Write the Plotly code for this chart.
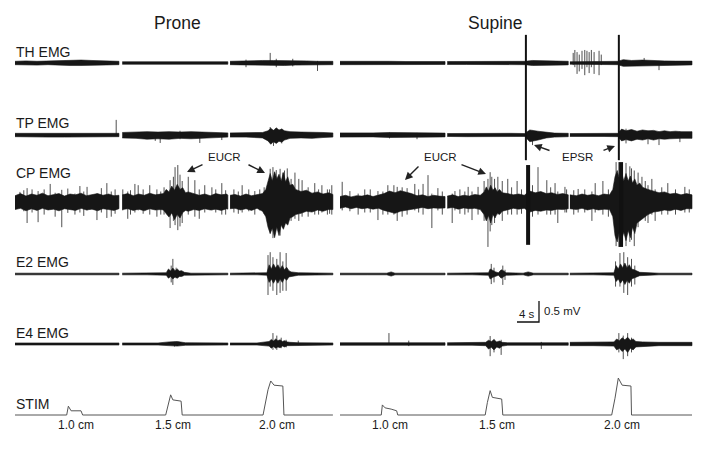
import plotly.graph_objects as go

# ======================= DATA (time in s, amplitude in mV) =======================
# Envelope breakpoints of each EMG trace: t, upper amplitude, lower amplitude.
# None marks a gap between recording segments.

# ---------------- Prone ----------------
th_prone_t  = [0, 2, 4, 6, 8, 10, 12, 14, 16, 18.9, None, 19.5, 22, 25, 28, 31, 34, 36, 38.7, None, 39.1, 41, 43, 45, 47, 49, 51, 53, 55, 57.8]
th_prone_hi = [0.04, 0.05, 0.04, 0.05, 0.05, 0.06, 0.07, 0.06, 0.05, 0.04, None, 0.03, 0.03, 0.035, 0.03, 0.03, 0.035, 0.03, 0.03, None, 0.04, 0.05, 0.05, 0.06, 0.06, 0.06, 0.05, 0.05, 0.04, 0.04]
th_prone_lo = [0.04, 0.045, 0.05, 0.04, 0.05, 0.06, 0.06, 0.07, 0.05, 0.04, None, 0.03, 0.035, 0.03, 0.03, 0.035, 0.03, 0.03, 0.03, None, 0.04, 0.045, 0.05, 0.055, 0.06, 0.06, 0.05, 0.045, 0.04, 0.04]
th_prone_spk_t  = [42.0, 46.4, 47.5, 50.5, 55.0]
th_prone_spk_hi = [0.08, 0.24, 0.10, 0.10, 0.05]
th_prone_spk_lo = [0.10, 0.05, 0.10, 0.08, 0.19]

tp_prone_t  = [0, 3, 6, 9, 12, 15, 18.9, None, 19.5, 22, 24, 26, 28, 30, 32, 34, 36, 38.7, None,
               39.1, 42, 45, 46, 46.5, 47, 47.5, 48, 48.5, 49, 50, 52, 54, 56, 57.8]
tp_prone_hi = [0.04, 0.04, 0.05, 0.04, 0.05, 0.04, 0.04, None, 0.06, 0.07, 0.08, 0.07, 0.08, 0.07, 0.08, 0.07, 0.06, 0.05, None,
               0.05, 0.05, 0.06, 0.10, 0.16, 0.11, 0.17, 0.12, 0.14, 0.10, 0.08, 0.07, 0.07, 0.06, 0.05]
tp_prone_lo = [0.04, 0.04, 0.05, 0.05, 0.04, 0.05, 0.04, None, 0.07, 0.08, 0.10, 0.09, 0.10, 0.08, 0.09, 0.08, 0.07, 0.05, None,
               0.05, 0.05, 0.07, 0.14, 0.22, 0.16, 0.20, 0.15, 0.17, 0.12, 0.08, 0.07, 0.08, 0.06, 0.05]
tp_prone_spk_t  = [18.4, 25.5, 26.4, 30.0, 33.6, 37.6, 46.4, 47.0, 48.5]
tp_prone_spk_hi = [0.36, 0.05, 0.06, 0.10, 0.05, 0.05, 0.19, 0.12, 0.15]
tp_prone_spk_lo = [0.02, 0.14, 0.19, 0.10, 0.19, 0.12, 0.12, 0.26, 0.20]

cp_prone_t  = [0, 1, 2, 3, 4, 5, 6, 7, 8, 9, 10, 11, 12, 13, 14, 15, 16, 17, 18, 18.9, None,
               19.5, 20.5, 21.5, 22.5, 23.5, 24.5, 25.5, 26.5, 27, 27.5, 28, 28.5, 29, 29.5, 30, 30.5, 31, 31.5,
               32.5, 33.5, 34.5, 35.5, 36.5, 37.5, 38.5, 38.7, None,
               39.1, 40, 41, 42, 43, 44, 45, 45.6, 46, 46.4, 46.8, 47.2, 47.6, 48, 48.4, 48.8, 49.2, 49.6, 50,
               50.5, 51, 52, 53, 54, 55, 56, 57, 57.8]
cp_prone_hi = [0.15, 0.20, 0.14, 0.19, 0.16, 0.21, 0.15, 0.18, 0.20, 0.14, 0.19, 0.17, 0.21, 0.15, 0.18, 0.20, 0.16, 0.19, 0.15, 0.16, None,
               0.17, 0.20, 0.15, 0.19, 0.16, 0.21, 0.17, 0.19, 0.20, 0.30, 0.24, 0.38, 0.28, 0.42, 0.30, 0.34, 0.22, 0.24,
               0.20, 0.16, 0.19, 0.15, 0.20, 0.17, 0.19, 0.16, None,
               0.16, 0.18, 0.14, 0.19, 0.15, 0.18, 0.20, 0.30, 0.50, 0.68, 0.50, 0.72, 0.55, 0.66, 0.50, 0.70, 0.48, 0.60, 0.40,
               0.42, 0.30, 0.25, 0.28, 0.21, 0.24, 0.19, 0.22, 0.18]
cp_prone_lo = [0.18, 0.15, 0.21, 0.16, 0.20, 0.15, 0.19, 0.17, 0.21, 0.16, 0.18, 0.20, 0.15, 0.19, 0.17, 0.21, 0.16, 0.18, 0.20, 0.16, None,
               0.18, 0.16, 0.20, 0.17, 0.21, 0.16, 0.19, 0.18, 0.19, 0.28, 0.36, 0.26, 0.42, 0.30, 0.38, 0.25, 0.20, 0.22,
               0.18, 0.20, 0.16, 0.19, 0.17, 0.20, 0.16, 0.17, None,
               0.16, 0.15, 0.19, 0.16, 0.20, 0.15, 0.22, 0.35, 0.60, 0.75, 0.62, 0.85, 0.60, 0.80, 0.55, 0.65, 0.50, 0.55, 0.38,
               0.35, 0.30, 0.27, 0.22, 0.24, 0.19, 0.22, 0.18, 0.18]
cp_prone_spk_t  = [0.9, 1.6, 2.2, 3.1, 4.2, 5.3, 6.4, 7.3, 8.5, 9.6, 10.9, 11.8, 12.5, 13.1, 14.9, 15.7, 16.7, 17.5, 18.2,
                   19.6, 20.5, 21.0, 21.8, 22.4, 23.3, 24.5, 25.8, 26.5, 27.1, 28.2, 28.8, 29.1, 29.6, 30.0, 30.4, 31.5,
                   32.7, 33.5, 34.5, 35.8, 36.5, 37.6, 38.3, 39.8, 40.6, 41.3, 42.5, 43.6, 44.5, 45.3, 46.4, 46.9, 47.2,
                   47.5, 48.0, 48.2, 48.7, 49.0, 49.5, 50.2, 50.9, 51.6, 52.2, 53.3, 54.5, 55.2, 55.8, 56.8, 57.2, 57.6]
cp_prone_spk_hi = [0.24, 0.28, 0.33, 0.30, 0.26, 0.30, 0.43, 0.22, 0.29, 0.32, 0.20, 0.38, 0.25, 0.36, 0.20, 0.33, 0.45, 0.25, 0.30,
                   0.30, 0.25, 0.28, 0.43, 0.40, 0.30, 0.40, 0.30, 0.25, 0.35, 0.52, 0.60, 0.83, 0.88, 0.65, 0.50, 0.60,
                   0.52, 0.30, 0.40, 0.35, 0.30, 0.45, 0.28, 0.30, 0.25, 0.40, 0.30, 0.26, 0.30, 0.35, 0.79, 0.83, 0.70,
                   0.76, 0.60, 0.79, 0.70, 0.75, 0.80, 0.55, 0.70, 0.55, 0.52, 0.35, 0.45, 0.30, 0.40, 0.30, 0.30, 0.40]
cp_prone_spk_lo = [0.10, 0.22, 0.50, 0.25, 0.48, 0.30, 0.15, 0.35, 0.60, 0.26, 0.30, 0.25, 0.33, 0.20, 0.43, 0.25, 0.38, 0.35, 0.28,
                   0.20, 0.40, 0.30, 0.25, 0.20, 0.28, 0.30, 0.35, 0.30, 0.30, 0.62, 0.45, 0.55, 0.67, 0.58, 0.50, 0.30,
                   0.35, 0.40, 0.25, 0.20, 0.25, 0.30, 0.30, 0.25, 0.28, 0.25, 0.22, 0.30, 0.20, 0.28, 0.75, 0.86, 0.75,
                   0.60, 0.70, 0.80, 0.60, 0.55, 0.50, 0.45, 0.40, 0.45, 0.35, 0.35, 0.30, 0.30, 0.25, 0.30, 0.28, 0.30]

e2_prone_t  = [0, 6, 12, 18.9, None,
               19.5, 24, 27.5, 27.9, 28.3, 28.7, 29.1, 29.5, 29.9, 30.3, 30.8, 32, 38.7, None,
               39.1, 44, 45.8, 46.2, 46.6, 47.0, 47.4, 47.8, 48.2, 48.6, 49.0, 49.4, 49.8, 50.2, 51.5, 57.8]
e2_prone_hi = [0.02, 0.025, 0.02, 0.02, None,
               0.02, 0.02, 0.03, 0.12, 0.07, 0.14, 0.08, 0.12, 0.07, 0.08, 0.04, 0.02, 0.02, None,
               0.02, 0.02, 0.03, 0.22, 0.12, 0.24, 0.14, 0.22, 0.12, 0.20, 0.10, 0.16, 0.08, 0.05, 0.03, 0.02]
e2_prone_lo = [0.02, 0.025, 0.02, 0.02, None,
               0.02, 0.02, 0.03, 0.10, 0.06, 0.12, 0.07, 0.10, 0.06, 0.06, 0.03, 0.02, 0.02, None,
               0.02, 0.02, 0.03, 0.20, 0.12, 0.22, 0.12, 0.22, 0.12, 0.20, 0.10, 0.15, 0.07, 0.05, 0.03, 0.02]
e2_prone_spk_t  = [28.4, 28.7, 29.3, 46.0, 46.4, 46.9, 47.6, 48.2, 48.7, 49.3]
e2_prone_spk_hi = [0.20, 0.36, 0.15, 0.45, 0.52, 0.40, 0.36, 0.52, 0.30, 0.50]
e2_prone_spk_lo = [0.20, 0.26, 0.10, 0.50, 0.30, 0.40, 0.50, 0.45, 0.40, 0.40]

e4_prone_t  = [0, 6, 12, 18.9, None, 19.5, 26, 28, 29.5, 31, 38.7, None,
               39.1, 44, 46.2, 46.6, 47.0, 47.4, 47.8, 48.2, 48.6, 49.0, 49.5, 50, 51.5, 57.8]
e4_prone_hi = [0.025, 0.025, 0.025, 0.025, None, 0.025, 0.025, 0.05, 0.06, 0.03, 0.025, None,
               0.025, 0.025, 0.06, 0.11, 0.07, 0.12, 0.08, 0.10, 0.06, 0.08, 0.05, 0.04, 0.03, 0.025]
e4_prone_lo = [0.025, 0.025, 0.025, 0.025, None, 0.025, 0.025, 0.04, 0.05, 0.03, 0.025, None,
               0.025, 0.025, 0.05, 0.10, 0.06, 0.10, 0.07, 0.09, 0.05, 0.07, 0.04, 0.04, 0.03, 0.025]
e4_prone_spk_t  = [29.0, 46.9, 47.6, 48.4, 49.3, 51.5]
e4_prone_spk_hi = [0.05, 0.26, 0.20, 0.15, 0.10, 0.08]
e4_prone_spk_lo = [0.06, 0.14, 0.14, 0.10, 0.08, 0.03]

stim_prone_t = [0, 9.4, 9.7, 10.2, 12.0, 12.3, 27.4, 27.9, 28.3, 28.7, 30.2, 30.4, 45.1, 46.0, 46.5, 47.1, 48.7, 48.9, 57.8]
stim_prone_v = [0, 0, 0.21, 0.10, 0.10, 0, 0, 0.30, 0.48, 0.36, 0.33, 0, 0, 0.60, 0.81, 0.71, 0.69, 0, 0]

# ---------------- Supine (time from start of supine record) ----------------
th_sup_t  = [0, 3, 6, 9, 12, 15, 19.1, None, 19.5, 23, 27, 31, 33.6, 35, 38, 41.5, None, 41.8, 44, 47, 49, 50.5, 51.5, 53, 55, 57, 59, 61, 64]
th_sup_hi = [0.04, 0.045, 0.04, 0.04, 0.035, 0.04, 0.035, None, 0.035, 0.04, 0.035, 0.04, 0.04, 0.06, 0.05, 0.04, None, 0.03, 0.03, 0.035, 0.04, 0.04, 0.08, 0.06, 0.07, 0.055, 0.05, 0.045, 0.045]
th_sup_lo = [0.04, 0.04, 0.045, 0.04, 0.04, 0.035, 0.035, None, 0.035, 0.035, 0.04, 0.035, 0.04, 0.06, 0.05, 0.045, None, 0.03, 0.03, 0.035, 0.04, 0.04, 0.08, 0.07, 0.06, 0.06, 0.05, 0.05, 0.045]
th_sup_spk_t  = [42.4, 42.7, 43.1, 43.5, 44.0, 44.5, 44.9, 45.3, 45.7, 46.2, 47.1, 47.5, 55.3, 58.0]
th_sup_spk_hi = [0.24, 0.31, 0.26, 0.20, 0.29, 0.31, 0.29, 0.26, 0.31, 0.26, 0.29, 0.20, 0.12, 0.05]
th_sup_spk_lo = [0.05, 0.10, 0.26, 0.20, 0.14, 0.29, 0.10, 0.24, 0.10, 0.26, 0.29, 0.05, 0.05, 0.17]

tp_sup_t  = [0, 3, 6, 9, 12, 15, 19.1, None, 19.5, 23, 27, 31, 33.6, 34.5, 36, 37.5, 39, 41.5, None,
             41.8, 45, 48, 50.5, 51.2, 52, 53, 54, 55, 56, 57, 58, 59, 60, 61, 62, 64]
tp_sup_hi = [0.05, 0.045, 0.05, 0.06, 0.055, 0.05, 0.045, None, 0.035, 0.04, 0.035, 0.04, 0.035, 0.12, 0.09, 0.06, 0.045, 0.04, None,
             0.035, 0.035, 0.035, 0.04, 0.14, 0.10, 0.13, 0.09, 0.12, 0.10, 0.11, 0.08, 0.10, 0.08, 0.09, 0.08, 0.08]
tp_sup_lo = [0.05, 0.05, 0.045, 0.06, 0.06, 0.05, 0.045, None, 0.035, 0.04, 0.035, 0.04, 0.035, 0.16, 0.12, 0.07, 0.05, 0.04, None,
             0.035, 0.035, 0.035, 0.04, 0.14, 0.11, 0.14, 0.10, 0.12, 0.09, 0.12, 0.09, 0.10, 0.09, 0.08, 0.08, 0.08]
tp_sup_spk_t  = [9.0, 14.0, 35.0, 52.0, 56.0, 58.0, 61.8]
tp_sup_spk_hi = [0.06, 0.05, 0.10, 0.15, 0.10, 0.08, 0.08]
tp_sup_spk_lo = [0.08, 0.10, 0.24, 0.20, 0.22, 0.24, 0.17]

cp_sup_t  = [0, 1, 2, 3, 4, 5, 6, 7, 8, 9, 10, 11, 12, 13, 14, 15, 16, 17, 18, 19.1, None,
             19.5, 20.5, 21.5, 22.5, 23.5, 24.5, 25.5, 26.2, 26.6, 27, 27.4, 27.8, 28.2, 28.6, 29, 29.5, 30.5,
             31.5, 32.5, 33.5, 34.5, 35.5, 36.5, 37.5, 38.5, 39.5, 40.5, 41.5, None,
             41.8, 43, 44, 45, 46, 47, 48, 49, 49.6, 50, 50.4, 50.8, 51.2, 51.6, 52, 52.4, 52.8, 53.2, 53.6, 54,
             54.5, 55, 56, 57, 58, 59, 60, 61, 62, 63, 64]
cp_sup_hi = [0.13, 0.16, 0.12, 0.15, 0.14, 0.17, 0.13, 0.16, 0.20, 0.26, 0.22, 0.27, 0.24, 0.20, 0.15, 0.17, 0.13, 0.16, 0.14, 0.13, None,
             0.14, 0.17, 0.13, 0.16, 0.14, 0.18, 0.16, 0.24, 0.36, 0.26, 0.40, 0.28, 0.34, 0.24, 0.30, 0.22, 0.20,
             0.17, 0.19, 0.16, 0.26, 0.22, 0.25, 0.20, 0.22, 0.18, 0.20, 0.17, None,
             0.17, 0.15, 0.19, 0.16, 0.18, 0.15, 0.19, 0.17, 0.30, 0.60, 0.75, 0.55, 0.70, 0.50, 0.68, 0.50, 0.62, 0.45, 0.55, 0.40,
             0.45, 0.35, 0.30, 0.26, 0.22, 0.24, 0.19, 0.21, 0.17, 0.20, 0.17]
cp_sup_lo = [0.15, 0.12, 0.16, 0.13, 0.16, 0.14, 0.17, 0.15, 0.20, 0.24, 0.27, 0.22, 0.20, 0.17, 0.15, 0.13, 0.16, 0.14, 0.15, 0.14, None,
             0.15, 0.13, 0.17, 0.14, 0.16, 0.15, 0.18, 0.30, 0.45, 0.32, 0.50, 0.30, 0.38, 0.26, 0.30, 0.22, 0.18,
             0.15, 0.17, 0.15, 0.24, 0.20, 0.22, 0.19, 0.20, 0.17, 0.18, 0.16, None,
             0.16, 0.18, 0.15, 0.19, 0.16, 0.19, 0.17, 0.18, 0.35, 0.80, 0.95, 0.70, 0.90, 0.72, 0.92, 0.68, 0.85, 0.60, 0.75, 0.50,
             0.45, 0.40, 0.30, 0.24, 0.22, 0.19, 0.21, 0.17, 0.20, 0.16, 0.16]
cp_sup_spk_t  = [0.4, 1.8, 3.3, 4.5, 5.5, 6.9, 7.8, 8.7, 9.8, 10.4, 11.3, 12.2, 13.6, 14.3, 15.1, 16.0, 16.7, 17.8, 18.6,
                 20.4, 20.9, 21.8, 22.7, 23.3, 24.0, 25.1, 26.2, 26.9, 27.3, 27.6, 28.1, 28.7, 29.5, 30.5, 31.2, 32.2, 33.0,
                 35.0, 36.0, 37.6, 38.3, 39.1, 39.6, 40.9, 41.2, 42.5, 43.3, 44.5, 45.8, 46.4, 47.8, 48.8,
                 50.2, 50.7, 51.0, 51.3, 52.0, 52.7, 53.0, 53.5, 54.2, 54.9, 55.5, 56.0, 56.7, 57.3, 58.5, 59.6, 61.0, 62.7, 63.5]
cp_sup_spk_hi = [0.48, 0.26, 0.20, 0.30, 0.30, 0.26, 0.25, 0.40, 0.40, 0.36, 0.35, 0.33, 0.43, 0.30, 0.43, 0.64, 0.20, 0.33, 0.25,
                 0.20, 0.26, 0.30, 0.25, 0.36, 0.25, 0.36, 0.50, 0.55, 0.71, 0.60, 0.55, 0.60, 0.50, 0.55, 0.35, 0.50, 0.30,
                 0.40, 0.83, 0.52, 0.35, 0.45, 0.25, 0.36, 0.30, 0.28, 0.31, 0.30, 0.25, 0.45, 0.50, 0.30,
                 0.95, 0.95, 0.90, 0.90, 0.93, 0.85, 0.80, 0.75, 0.70, 0.60, 0.50, 0.40, 0.55, 0.30, 0.35, 0.45, 0.30, 0.36, 0.30]
cp_sup_spk_lo = [0.20, 0.22, 0.30, 0.25, 0.25, 0.43, 0.30, 0.30, 0.30, 0.45, 0.35, 0.30, 0.20, 0.25, 0.30, 0.15, 0.62, 0.20, 0.30,
                 0.50, 0.20, 0.28, 0.30, 0.25, 0.43, 0.30, 0.45, 1.07, 0.70, 0.55, 0.50, 0.30, 0.45, 0.30, 0.30, 0.30, 0.28,
                 0.35, 0.30, 0.30, 0.30, 0.30, 0.50, 0.25, 0.25, 0.30, 0.25, 0.25, 0.45, 0.25, 0.30, 0.35,
                 1.05, 1.07, 0.95, 1.00, 1.05, 0.95, 0.90, 1.05, 0.60, 0.40, 0.45, 0.50, 0.30, 0.45, 0.30, 0.30, 0.30, 0.25, 0.25]

e2_sup_t  = [0, 5, 8.5, 9.3, 10, 14, 19.1, None,
             19.5, 24, 27, 27.3, 27.8, 28.3, 28.8, 29.3, 29.7, 30.2, 33.3, 34.2, 35.2, 41.5, None,
             41.8, 46, 49.8, 50.2, 50.6, 51.0, 51.4, 51.8, 52.2, 52.6, 53.0, 53.5, 54.5, 58, 64]
e2_sup_hi = [0.02, 0.02, 0.02, 0.05, 0.02, 0.02, 0.02, None,
             0.02, 0.02, 0.03, 0.12, 0.08, 0.05, 0.03, 0.10, 0.08, 0.03, 0.02, 0.05, 0.02, 0.02, None,
             0.02, 0.02, 0.03, 0.20, 0.12, 0.24, 0.15, 0.26, 0.14, 0.22, 0.12, 0.10, 0.04, 0.02, 0.02]
e2_sup_lo = [0.02, 0.02, 0.02, 0.05, 0.02, 0.02, 0.02, None,
             0.02, 0.02, 0.03, 0.12, 0.08, 0.05, 0.03, 0.10, 0.08, 0.03, 0.02, 0.05, 0.02, 0.02, None,
             0.02, 0.02, 0.03, 0.18, 0.12, 0.22, 0.14, 0.25, 0.15, 0.22, 0.12, 0.10, 0.04, 0.02, 0.02]
e2_sup_spk_t  = [27.5, 28.0, 29.6, 30.0, 50.1, 50.9, 51.6, 52.3, 53.0, 53.6]
e2_sup_spk_hi = [0.24, 0.15, 0.20, 0.10, 0.30, 0.50, 0.52, 0.40, 0.36, 0.20]
e2_sup_spk_lo = [0.24, 0.20, 0.26, 0.14, 0.30, 0.30, 0.45, 0.50, 0.30, 0.25]

e4_sup_t  = [0, 5, 10, 15, 19.1, None,
             19.5, 24, 26.5, 27.0, 27.5, 28.0, 28.5, 29.0, 29.5, 30.5, 36, 41.5, None,
             41.8, 46, 49.8, 50.3, 50.8, 51.3, 51.8, 52.3, 52.8, 53.3, 53.8, 55, 58, 64]
e4_sup_hi = [0.03, 0.03, 0.03, 0.03, 0.03, None,
             0.03, 0.03, 0.04, 0.09, 0.06, 0.10, 0.05, 0.07, 0.04, 0.03, 0.03, 0.03, None,
             0.04, 0.04, 0.05, 0.12, 0.08, 0.15, 0.10, 0.16, 0.09, 0.12, 0.06, 0.05, 0.04, 0.04]
e4_sup_lo = [0.03, 0.03, 0.03, 0.03, 0.03, None,
             0.03, 0.03, 0.04, 0.12, 0.08, 0.14, 0.07, 0.10, 0.05, 0.03, 0.03, 0.03, None,
             0.04, 0.04, 0.05, 0.14, 0.10, 0.18, 0.12, 0.20, 0.10, 0.14, 0.07, 0.05, 0.04, 0.04]
e4_sup_spk_t  = [8.9, 12.5, 27.3, 28.0, 29.3, 36.6, 50.7, 51.5, 52.3, 53.0]
e4_sup_spk_hi = [0.26, 0.08, 0.19, 0.12, 0.10, 0.05, 0.26, 0.20, 0.26, 0.15]
e4_sup_spk_lo = [0.02, 0.05, 0.29, 0.20, 0.26, 0.12, 0.20, 0.36, 0.29, 0.20]

stim_sup_t = [0, 7.5, 7.7, 8.2, 9.3, 10.3, 10.5, 26.4, 26.8, 27.3, 27.7, 29.4, 29.6, 49.4, 50.0, 50.4, 50.6, 51.3, 52.9, 53.0, 64]
stim_sup_v = [0, 0, 0.24, 0.17, 0.14, 0.10, 0, 0, 0.30, 0.58, 0.42, 0.38, 0, 0, 0.40, 0.70, 0.88, 0.71, 0.69, 0, 0]

# EPSR artefacts in the supine record (time, extent above TH / below TP, CP bar extent)
epsr_t     = [33.8, 50.7]
epsr_th_hi = [0.67, 0.67]
epsr_tp_lo = [0.60, 0.60]
epsr_cp_hi = [0.88, 0.95]
epsr_cp_lo = [1.02, 1.07]

# Labels
channel_names = ["TH EMG", "TP EMG", "CP EMG", "E2 EMG", "E4 EMG", "STIM"]
stim_labels = ["1.0 cm", "1.5 cm", "2.0 cm"]
stim_label_t_prone = [11.1, 28.7, 47.6]
stim_label_t_sup = [9.1, 28.5, 51.3]
scale_s, scale_mv = 4, 0.5

# ======================= LAYOUT CONSTANTS =======================
W, H = 704, 449
PX_PER_S, PX_PER_MV = 5.5, 42.0
X_LEFT_PX, SUP_START_PX = 15, 340
X_MIN = -X_LEFT_PX / PX_PER_S
X_MAX = (W - X_LEFT_PX) / PX_PER_S
SUP = (SUP_START_PX - X_LEFT_PX) / PX_PER_S
Y_MIN = -H / PX_PER_MV
base_px = [63, 135, 202, 274, 344, 415]
label_py = [52, 123, 173, 262, 333, 404]
OFF = [-b / PX_PER_MV for b in base_px]
CORE = "#161616"
SPK = "#3c3c3c"
FONT = "Arial, Liberation Sans, Helvetica, sans-serif"

fig = go.Figure()


def split(seq_t, seq_a, seq_b):
    segs, cur = [], ([], [], [])
    for t, a, b in zip(seq_t, seq_a, seq_b):
        if t is None:
            if cur[0]:
                segs.append(cur)
            cur = ([], [], [])
        else:
            cur[0].append(t); cur[1].append(a); cur[2].append(b)
    if cur[0]:
        segs.append(cur)
    return segs


def add_env(t, hi, lo, off, xoff):
    for ts, hs, ls in split(t, hi, lo):
        xs = [x + xoff for x in ts] + [x + xoff for x in reversed(ts)]
        ys = [off + h for h in hs] + [off - l for l in reversed(ls)]
        fig.add_trace(go.Scatter(x=xs, y=ys, mode="lines", fill="toself", fillcolor=CORE,
                                 line=dict(color=CORE, width=0.6), hoverinfo="skip", showlegend=False))


def add_spikes(t, hi, lo, off, xoff, color=SPK, width=0.9):
    xs, ys = [], []
    for tt, h, l in zip(t, hi, lo):
        xs += [tt + xoff, tt + xoff, None]
        ys += [off + h, off - l, None]
    fig.add_trace(go.Scatter(x=xs, y=ys, mode="lines", line=dict(color=color, width=width),
                             hoverinfo="skip", showlegend=False))


prone = [
    (th_prone_t, th_prone_hi, th_prone_lo, th_prone_spk_t, th_prone_spk_hi, th_prone_spk_lo),
    (tp_prone_t, tp_prone_hi, tp_prone_lo, tp_prone_spk_t, tp_prone_spk_hi, tp_prone_spk_lo),
    (cp_prone_t, cp_prone_hi, cp_prone_lo, cp_prone_spk_t, cp_prone_spk_hi, cp_prone_spk_lo),
    (e2_prone_t, e2_prone_hi, e2_prone_lo, e2_prone_spk_t, e2_prone_spk_hi, e2_prone_spk_lo),
    (e4_prone_t, e4_prone_hi, e4_prone_lo, e4_prone_spk_t, e4_prone_spk_hi, e4_prone_spk_lo),
]
supine = [
    (th_sup_t, th_sup_hi, th_sup_lo, th_sup_spk_t, th_sup_spk_hi, th_sup_spk_lo),
    (tp_sup_t, tp_sup_hi, tp_sup_lo, tp_sup_spk_t, tp_sup_spk_hi, tp_sup_spk_lo),
    (cp_sup_t, cp_sup_hi, cp_sup_lo, cp_sup_spk_t, cp_sup_spk_hi, cp_sup_spk_lo),
    (e2_sup_t, e2_sup_hi, e2_sup_lo, e2_sup_spk_t, e2_sup_spk_hi, e2_sup_spk_lo),
    (e4_sup_t, e4_sup_hi, e4_sup_lo, e4_sup_spk_t, e4_sup_spk_hi, e4_sup_spk_lo),
]

for xoff, chans in ((0.0, prone), (SUP, supine)):
    for i, (t, hi, lo, st, sh, sl) in enumerate(chans):
        add_spikes(st, sh, sl, OFF[i], xoff)
        add_env(t, hi, lo, OFF[i], xoff)

# EPSR artefacts
ex, ey = [], []
for t, a, b in zip(epsr_t, epsr_th_hi, epsr_tp_lo):
    ex += [t + SUP, t + SUP, None]
    ey += [OFF[0] + a, OFF[1] - b, None]
fig.add_trace(go.Scatter(x=ex, y=ey, mode="lines", line=dict(color="#111", width=2),
                         hoverinfo="skip", showlegend=False))
cx, cy = [], []
for t, a, b in zip(epsr_t, epsr_cp_hi, epsr_cp_lo):
    cx += [t + 0.4 + SUP, t + 0.4 + SUP, None]
    cy += [OFF[2] + a, OFF[2] - b, None]
fig.add_trace(go.Scatter(x=cx, y=cy, mode="lines", line=dict(color="#111", width=4),
                         hoverinfo="skip", showlegend=False))

# STIM traces
fig.add_trace(go.Scatter(x=stim_prone_t, y=[OFF[5] + v for v in stim_prone_v], mode="lines",
                         line=dict(color="#555", width=1), hoverinfo="skip", showlegend=False))
fig.add_trace(go.Scatter(x=[t + SUP for t in stim_sup_t], y=[OFF[5] + v for v in stim_sup_v], mode="lines",
                         line=dict(color="#555", width=1), hoverinfo="skip", showlegend=False))

# Scale bar
sb_x0 = (517 - X_LEFT_PX) / PX_PER_S
sb_y0 = -322 / PX_PER_MV
fig.add_trace(go.Scatter(x=[sb_x0, sb_x0 + scale_s, sb_x0 + scale_s],
                         y=[sb_y0, sb_y0, sb_y0 + scale_mv], mode="lines",
                         line=dict(color="#111", width=1.3), hoverinfo="skip", showlegend=False))

ann = []


def px(x):
    return x / W


def py(y):
    return 1 - y / H


def text(x, y, s, size, anchor="center", color="#1a1a1a"):
    ann.append(dict(x=px(x), y=py(y), xref="paper", yref="paper", text=s, showarrow=False,
                    xanchor=anchor, yanchor="middle", font=dict(family=FONT, size=size, color=color)))


def arrow(tx, ty, ax, ay):
    ann.append(dict(x=px(tx), y=py(ty), xref="paper", yref="paper", text="", showarrow=True,
                    ax=ax, ay=ay, arrowhead=2, arrowsize=1.1, arrowwidth=1.4, arrowcolor="#222"))


text(177, 23, "Prone", 17.5)
text(495, 23, "Supine", 17.5)
for name, yy in zip(channel_names, label_py):
    text(14, yy, name, 14, anchor="left")

text(224, 157, "EUCR", 11.5)
text(440, 157, "EUCR", 11.5)
text(577, 157, "EPSR", 11.5)
arrow(187, 172, 17, -8)
arrow(265, 173, -18, -9)
arrow(405, 180, 15, -15)
arrow(486, 174, -26, -10)
arrow(534, 145, 17, 6)
arrow(615, 146, -13, 5)

text(527, 314, "4 s", 11.5)
text(542, 311, "0.5 mV", 11.5, anchor="left")

for lab, t in zip(stim_labels, stim_label_t_prone):
    ann.append(dict(x=t, y=OFF[5] - 0.24, xref="x", yref="y", text=lab, showarrow=False,
                    font=dict(family=FONT, size=12, color="#1a1a1a")))
for lab, t in zip(stim_labels, stim_label_t_sup):
    ann.append(dict(x=t + SUP, y=OFF[5] - 0.24, xref="x", yref="y", text=lab, showarrow=False,
                    font=dict(family=FONT, size=12, color="#1a1a1a")))

fig.update_layout(
    width=W, height=H, margin=dict(l=0, r=0, t=0, b=0),
    paper_bgcolor="white", plot_bgcolor="white",
    xaxis=dict(range=[X_MIN, X_MAX], visible=False, fixedrange=True),
    yaxis=dict(range=[Y_MIN, 0], visible=False, fixedrange=True),
    annotations=ann, showlegend=False,
)

fig.write_html("out.html", config={"displayModeBar": False},
               post_script="document.body.style.margin='0';document.body.style.padding='0';document.body.style.overflow='hidden';")
